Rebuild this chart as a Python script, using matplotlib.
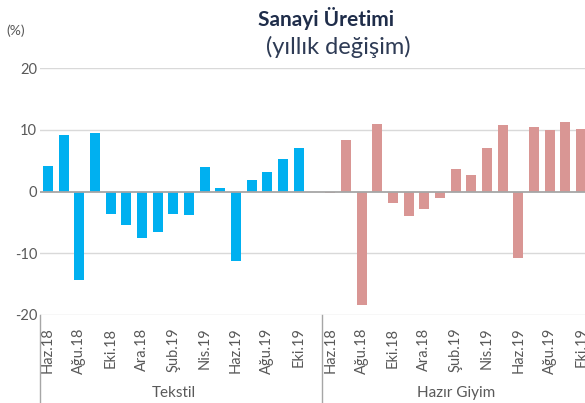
import matplotlib
matplotlib.use("Agg")
import matplotlib.pyplot as plt
import matplotlib.transforms as mtransforms

plt.rcParams['font.family'] = ['Lato', 'DejaVu Sans']

months = ["Haz.18", "Tem.18", "Ağu.18", "Eyl.18", "Eki.18", "Kas.18", "Ara.18",
          "Oca.19", "Şub.19", "Mar.19", "Nis.19", "May.19", "Haz.19", "Tem.19",
          "Ağu.19", "Eyl.19", "Eki.19"]
groups = ["Tekstil", "Hazır Giyim"]
tekstil = [4.2, 9.2, -14.4, 9.4, -3.7, -5.5, -7.6, -6.5, -3.6, -3.8, 3.9, 0.5,
           -11.3, 1.8, 3.2, 5.2, 7.1]
hazir_giyim = [-0.3, 8.4, -18.3, 11.0, -1.8, -4.0, -2.9, -1.1, 3.7, 2.6, 7.1,
               10.8, -10.7, 10.5, 10.0, 11.3, 10.2]
yticks = [-20, -10, 0, 10, 20]

W, H = 585, 403
fig = plt.figure(figsize=(W / 100, H / 100), dpi=100)
left, right, top, bottom = 40, 589, 68, 315
ax = fig.add_axes([left / W, (H - bottom) / H, (right - left) / W, (bottom - top) / H])

n = len(months)
x1 = list(range(n))
x2 = [i + n + 1 for i in range(n)]
ax.bar(x1, tekstil, width=0.64, color="#00B0F0", zorder=3)
ax.bar(x2, hazir_giyim, width=0.64, color="#D99694", zorder=3)

ax.set_xlim(-0.5, 2 * n + 0.5)
ax.set_ylim(-20, 20)
ax.set_yticks(yticks)
ax.set_yticklabels([str(v) for v in yticks], fontsize=10.5, color="#595959")
for v in yticks:
    if v == 0:
        ax.axhline(v, color="#A6A6A6", lw=1.3, zorder=4)
    else:
        ax.axhline(v, color="#D9D9D9", lw=1.0, zorder=1)
ax.tick_params(axis="y", length=0, pad=2)

ticks = [x1[i] for i in range(0, n, 2)] + [x2[i] for i in range(0, n, 2)]
labels = [months[i] for i in range(0, n, 2)] * 2
ax.set_xticks(ticks)
ax.set_xticklabels(labels, rotation=90, fontsize=10.5, color="#595959", va="top")
ax.tick_params(axis="x", length=0, pad=9)
for s in ax.spines.values():
    s.set_visible(False)

trans = mtransforms.blended_transform_factory(ax.transData, ax.transAxes)
for xs in [-0.5, n + 0.5]:
    ax.plot([xs, xs], [0, -0.5], transform=trans, color="#A6A6A6", lw=1.0, clip_on=False)
ax.text((n - 1) / 2, -0.316, groups[0], transform=trans, ha="center", va="center",
        fontsize=11, color="#595959")
ax.text(n + 1 + (n - 1) / 2, -0.316, groups[1], transform=trans, ha="center", va="center",
        fontsize=11, color="#595959")

fig.text(326 / W, 1 - 19 / H, "Sanayi Üretimi", ha="center", va="center",
         fontsize=15, fontweight="bold", color="#1F2D4A")
fig.text(338 / W, 1 - 47 / H, "(yıllık değişim)", ha="center", va="center",
         fontsize=17, color="#2E3B55")
fig.text(6 / W, 1 - 31 / H, "(%)", ha="left", va="center", fontsize=10, color="#595959")

fig.savefig("out.png", dpi=100)
